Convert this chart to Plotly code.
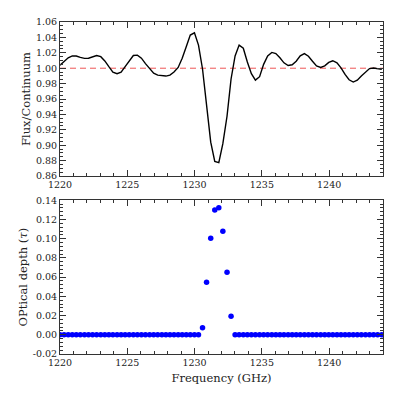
import plotly.graph_objects as go

# channel frequencies (GHz)
freq = [
    1220.00, 1220.30, 1220.61, 1220.91, 1221.21, 1221.51, 1221.82, 1222.12,
    1222.42, 1222.72, 1223.03, 1223.33, 1223.63, 1223.93, 1224.24, 1224.54,
    1224.84, 1225.14, 1225.45, 1225.75, 1226.05, 1226.35, 1226.66, 1226.96,
    1227.26, 1227.57, 1227.87, 1228.17, 1228.47, 1228.78, 1229.08, 1229.38,
    1229.68, 1229.99, 1230.29, 1230.59, 1230.89, 1231.20, 1231.50, 1231.80,
    1232.10, 1232.41, 1232.71, 1233.01, 1233.31, 1233.62, 1233.92, 1234.22,
    1234.52, 1234.83, 1235.13, 1235.43, 1235.74, 1236.04, 1236.34, 1236.64,
    1236.95, 1237.25, 1237.55, 1237.85, 1238.16, 1238.46, 1238.76, 1239.06,
    1239.37, 1239.67, 1239.97, 1240.27, 1240.58, 1240.88, 1241.18, 1241.48,
    1241.79, 1242.09, 1242.39, 1242.70, 1243.00, 1243.30, 1243.60, 1243.91,
]

# continuum-normalised flux
flux = [
    1.0040, 1.0090, 1.0135, 1.0160, 1.0158, 1.0140, 1.0128, 1.0130,
    1.0150, 1.0165, 1.0150, 1.0095, 1.0020, 0.9950, 0.9928, 0.9950,
    1.0020, 1.0100, 1.0165, 1.0170, 1.0130, 1.0060, 0.9990, 0.9935,
    0.9910, 0.9900, 0.9898, 0.9910, 0.9950, 1.0010, 1.0130, 1.0280,
    1.0430, 1.0460, 1.0300, 0.9990, 0.9545, 0.9040, 0.8790, 0.8775,
    0.9020, 0.9376, 0.9860, 1.0160, 1.0300, 1.0260, 1.0080, 0.9930,
    0.9845, 0.9890, 1.0050, 1.0160, 1.0205, 1.0190, 1.0135, 1.0070,
    1.0035, 1.0045, 1.0090, 1.0160, 1.0190, 1.0155, 1.0090, 1.0030,
    1.0010, 1.0030, 1.0075, 1.0097, 1.0070, 1.0005, 0.9920, 0.9850,
    0.9820, 0.9845, 0.9900, 0.9950, 0.9995, 1.0003, 0.9995, 0.9985,
]

# optical depth
tau = [
    0.0, 0.0, 0.0, 0.0, 0.0, 0.0, 0.0, 0.0,
    0.0, 0.0, 0.0, 0.0, 0.0, 0.0, 0.0, 0.0,
    0.0, 0.0, 0.0, 0.0, 0.0, 0.0, 0.0, 0.0,
    0.0, 0.0, 0.0, 0.0, 0.0, 0.0, 0.0, 0.0,
    0.0, 0.0, 0.0, 0.0072, 0.0546, 0.1006, 0.1298, 0.1322,
    0.1077, 0.0651, 0.0194, 0.0, 0.0, 0.0, 0.0, 0.0,
    0.0, 0.0, 0.0, 0.0, 0.0, 0.0, 0.0, 0.0,
    0.0, 0.0, 0.0, 0.0, 0.0, 0.0, 0.0, 0.0,
    0.0, 0.0, 0.0, 0.0, 0.0, 0.0, 0.0, 0.0,
    0.0, 0.0, 0.0, 0.0, 0.0, 0.0, 0.0, 0.0,
]

x_range = [1220, 1244]
continuum = [1.0, 1.0]

tau_ticks = [-0.02, 0.00, 0.02, 0.04, 0.06, 0.08, 0.10, 0.12, 0.14]
tau_labels = ["-0.02", "0.00", "0.02", "0.04", "0.06", "0.08", "0.10", "0.12", "0.14"]

FONT = "DejaVu Serif"
AX = "#333333"

fig = go.Figure()

# top panel: spectrum
fig.add_trace(
    go.Scatter(
        x=x_range, y=continuum, mode="lines",
        line=dict(color="#ee5555", width=1, dash="6px,4px"),
        xaxis="x2", yaxis="y2", hoverinfo="skip",
    )
)
fig.add_trace(
    go.Scatter(
        x=freq, y=flux, mode="lines",
        line=dict(color="black", width=1.4),
        xaxis="x2", yaxis="y2",
    )
)

# bottom panel: optical depth
fig.add_trace(
    go.Scatter(
        x=freq, y=tau, mode="markers",
        marker=dict(color="#0000ff", size=5.5, line=dict(width=0)),
        xaxis="x", yaxis="y",
    )
)

common_axis = dict(
    showline=True, linecolor=AX, linewidth=1, mirror="ticks",
    ticks="inside", tickcolor=AX, showgrid=False, zeroline=False,
    tickfont=dict(family=FONT, size=9.5, color="#222"),
)

x_common = dict(
    common_axis, range=x_range, dtick=5, tick0=1220, ticklen=6,
    minor=dict(ticks="inside", dtick=1, ticklen=3, tickcolor=AX),
)

# page body has an 8px margin, so the figure is shifted by that amount
fig.update_layout(
    width=391, height=391,
    margin=dict(l=52, r=16, t=8, b=45),
    paper_bgcolor="white", plot_bgcolor="white",
    showlegend=False,
    font=dict(family=FONT, color="#222"),
    xaxis=dict(
        x_common, anchor="y", domain=[0, 1],
        title=dict(text="Frequency (GHz)", font=dict(family=FONT, size=11.5), standoff=6),
    ),
    yaxis=dict(
        common_axis, anchor="x", domain=[0, 0.463],
        range=[-0.02, 0.14], tickvals=tau_ticks, ticktext=tau_labels, ticklen=6,
        minor=dict(ticks="inside", dtick=0.004, tick0=0, ticklen=3, tickcolor=AX),
        title=dict(text="OPtical depth (<i>τ</i>)", font=dict(family=FONT, size=11.5), standoff=2),
    ),
    xaxis2=dict(x_common, anchor="y2", domain=[0, 1]),
    yaxis2=dict(
        common_axis, anchor="x2", domain=[0.536, 1],
        range=[0.86, 1.06], dtick=0.02, tickformat=".2f", ticklen=6,
        minor=dict(ticks="inside", dtick=0.005, ticklen=3, tickcolor=AX),
        title=dict(text="Flux/Continuum", font=dict(family=FONT, size=11.5), standoff=2),
    ),
)

fig.write_html("out.html")
